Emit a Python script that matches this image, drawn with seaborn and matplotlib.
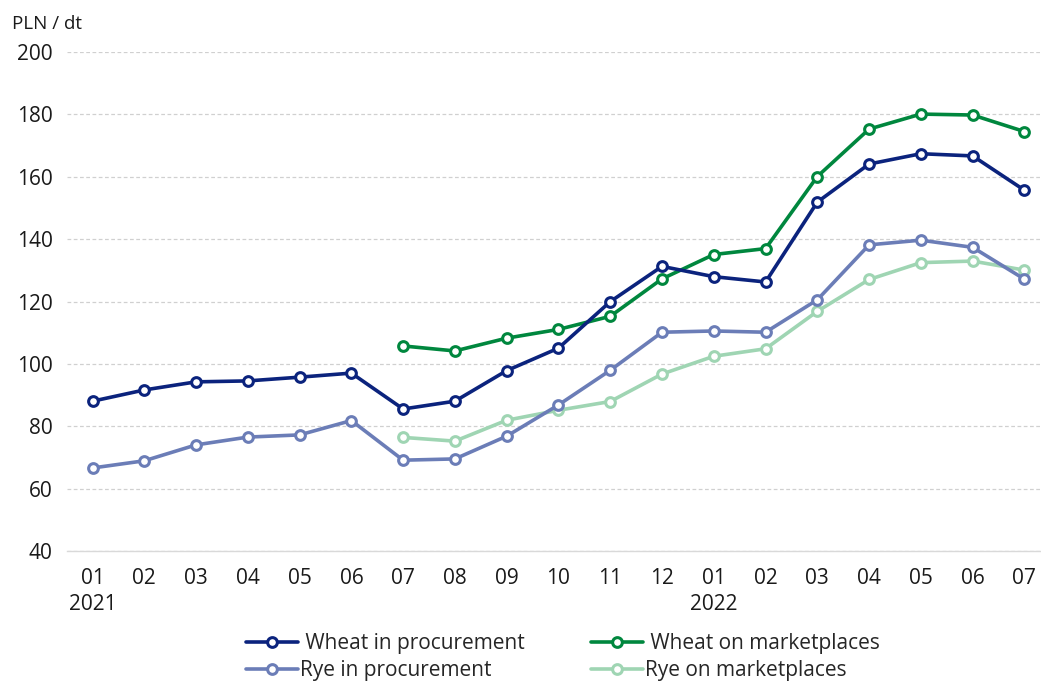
import matplotlib
import matplotlib.pyplot as plt
import numpy as np
import pandas as pd
import seaborn as sns

matplotlib.use("agg")
sns.set_theme(style="white")
plt.rcParams["font.family"] = ["Open Sans", "DejaVu Sans"]

months = ["01", "02", "03", "04", "05", "06", "07", "08", "09", "10", "11", "12",
          "01", "02", "03", "04", "05", "06", "07"]
years = {0: "2021", 12: "2022"}

wheat_proc = [88.1, 91.7, 94.3, 94.6, 95.8, 97.1, 85.6, 88.1, 97.9, 105.1, 120.0, 131.3,
              128.0, 126.3, 151.9, 164.1, 167.4, 166.7, 155.7]
wheat_mkt = [None, None, None, None, None, None, 105.8, 104.2, 108.3, 111.1, 115.3, 127.3,
             135.1, 137.0, 160.1, 175.3, 180.1, 179.8, 174.5]
rye_proc = [66.7, 69.0, 74.1, 76.6, 77.3, 81.9, 69.2, 69.6, 76.9, 86.9, 98.0, 110.2,
            110.6, 110.2, 120.6, 138.2, 139.7, 137.4, 127.2]
rye_mkt = [None, None, None, None, None, None, 76.5, 75.3, 82.0, 85.2, 88.0, 96.8,
           102.5, 104.9, 116.9, 127.1, 132.5, 133.0, 130.1]

series = [
    (" Wheat in procurement", wheat_proc, "#0b237d"),
    ("Rye in procurement", rye_proc, "#6b7db7"),
    (" Wheat on marketplaces", wheat_mkt, "#00873e"),
    ("Rye on marketplaces", rye_mkt, "#9fd5b3"),
]

fig = plt.figure(figsize=(10.41, 6.84), dpi=100)
ax = fig.add_axes([0.064, 0.194, 0.935, 0.73])

x = np.arange(len(months))
# draw in order so dark lines stay on top
for name, vals, color in [series[3], series[1], series[2], series[0]]:
    df = pd.DataFrame({"x": x, "y": pd.array(vals, dtype="float")}).dropna()
    sns.lineplot(data=df, x="x", y="y", ax=ax, color=color, linewidth=2.6,
                 marker="o", markersize=7, markerfacecolor="white",
                 markeredgecolor=color, markeredgewidth=2.2, label=name)

ax.set_ylim(40, 200)
ax.set_yticks(range(40, 201, 20))
ax.set_xlim(-0.5, 18.3)
ax.set_xticks(x)
ax.set_xticklabels([m + ("\n" + years[i] if i in years else "\n") for i, m in enumerate(months)],
                   fontsize=15, color="#1a1a1a", linespacing=1.3)
ax.tick_params(axis="y", labelsize=15, labelcolor="#1a1a1a", pad=10, length=0)
ax.tick_params(axis="x", pad=12, length=0)

ax.grid(axis="y", linestyle=(0, (3, 2)), color="#d0d0d0", linewidth=0.9)
for s in ["top", "right", "left"]:
    ax.spines[s].set_visible(False)
ax.spines["bottom"].set_color("#d9d9d9")
ax.spines["bottom"].set_linewidth(1.0)
ax.set_xlabel("")
ax.set_ylabel("")

fig.text(0.012, 0.965, "PLN / dt", fontsize=13.5, color="#1a1a1a", va="center")

handles, labels = ax.get_legend_handles_labels()
order = {n: i for i, (n, _, _) in enumerate(series)}
pairs = sorted(zip(handles, labels), key=lambda p: order[p[1]])
ax.legend([p[0] for p in pairs], [p[1] for p in pairs], ncol=2, loc="lower center",
          bbox_to_anchor=(0.51, -0.298), frameon=False, fontsize=15,
          handlelength=2.5, columnspacing=3.2, labelspacing=0.3, handletextpad=0.1)

fig.savefig("out.png", dpi=100)
